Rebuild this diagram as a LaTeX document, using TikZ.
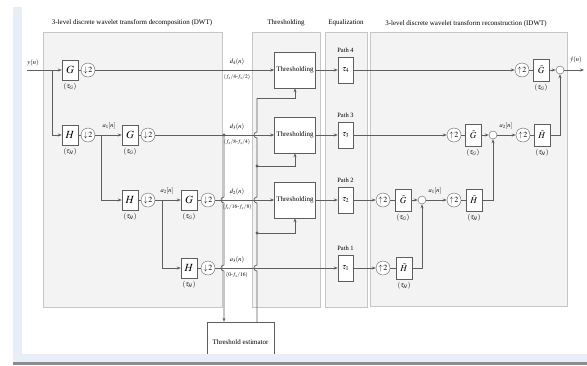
\documentclass[tikz,border=0pt]{standalone}
\usepackage{mathptmx}
\usepackage{fontspec}
\setmainfont{Liberation Serif}
\usetikzlibrary{arrows.meta,positioning}
\definecolor{panelfill}{HTML}{F3F3F3}
\definecolor{paneldraw}{HTML}{C6C6C6}
\definecolor{wire}{HTML}{5E5E5E}
\definecolor{winblue}{HTML}{E7EEF8}
\tikzset{
  panel/.style={draw=paneldraw,fill=panelfill,line width=0.7bp},
  title/.style={font=\fontsize{7}{7}\selectfont,inner sep=0pt},
  lbl/.style={font=\fontsize{6.5}{6.5}\selectfont,inner sep=0pt},
  blk/.style={draw=wire,fill=white,minimum width=16bp,minimum height=20bp,inner sep=0pt,
    font=\fontsize{11}{11}\selectfont},
  tblk/.style={blk,minimum height=22bp,font=\fontsize{9}{9}\selectfont},
  smp/.style={circle,draw=wire,fill=white,minimum size=14bp,inner sep=0pt,
    font=\fontsize{8}{8}\selectfont},
  sumnode/.style={circle,draw=wire,fill=white,minimum size=8bp,inner sep=0pt},
  thrbox/.style={draw=wire,fill=white,minimum width=41bp,minimum height=36bp,inner sep=0pt,
    font=\fontsize{7}{7}\selectfont},
  eqbox/.style={draw=wire,fill=white,minimum width=15bp,minimum height=26bp,inner sep=0pt,
    font=\fontsize{8}{8}\selectfont},
  tau/.style={label={[lbl,font=\fontsize{7}{7}\selectfont,label distance=3bp]below:$(\tau_{#1})$}},
  pathlbl/.style={label={[lbl,label distance=4bp]above:Path #1}},
  wireline/.style={draw=wire,line width=0.7bp},
  sig/.style={wireline,-{Stealth[length=4bp,width=3bp]}}
}
\begin{document}
\begin{tikzpicture}[x=1bp,y=-1bp]
  \useasboundingbox (0,0) rectangle (587,365);
  \fill[winblue] (13,7) rectangle (22,356);

  % panels and titles
  \draw[panel] (43,32) rectangle (222,307);
  \draw[panel] (252,32) rectangle (320,307);
  \draw[panel] (325,32) rectangle (367,307);
  \draw[panel] (370,32) rectangle (567,306);
  \node[title] (tdwt) at (132,23) {3-level discrete wavelet transform decomposition (DWT)};
  \node[title] (tthr) at (286,23) {Thresholding};
  \node[title] (teq) at (346,23) {Equalization};
  \node[title] (tidwt) at (466,24) {3-level discrete wavelet transform reconstruction (IDWT)};

  % decomposition
  \coordinate (yin) at (27,70);
  \coordinate (s0) at (52,70);
  \coordinate (s1) at (101,135);
  \coordinate (s2) at (162,200);
  \node[blk,tau=G] (G1) at (70,70) {$G$};
  \node[smp] (D1) at (88,70) {$\downarrow\!2$};
  \node[blk,tau=H] (H1) at (70,135) {$H$};
  \node[smp] (D2) at (88,135) {$\downarrow\!2$};
  \node[blk,tau=G] (G2) at (130,135) {$G$};
  \node[smp] (D3) at (148,135) {$\downarrow\!2$};
  \node[blk,tau=H] (H2) at (130,200) {$H$};
  \node[smp] (D4) at (148,200) {$\downarrow\!2$};
  \node[blk,tau=G] (G3) at (189,200) {$G$};
  \node[smp] (D5) at (208,200) {$\downarrow\!2$};
  \node[blk,tau=H] (H3) at (189,268) {$H$};
  \node[smp] (D6) at (208,268) {$\downarrow\!2$};
  \node[lbl] (lyin) at (33,63) {$y(n)$};
  \node[lbl] (la1) at (109,126) {$a_1[n]$};
  \node[lbl] (la2) at (167,191) {$a_2[n]$};

  % band labels
  \node[lbl] (ld4) at (237,62) {$d_4(n)$};
  \node[lbl,font=\fontsize{5.5}{5.5}\selectfont] (fd4) at (237,77) {$(f_s/4$-$f_s/2)$};
  \node[lbl] (ld3) at (237,127) {$d_3(n)$};
  \node[lbl,font=\fontsize{5.5}{5.5}\selectfont] (fd3) at (237,142) {$(f_s/8$-$f_s/4)$};
  \node[lbl] (ld2) at (237,192) {$d_2(n)$};
  \node[lbl,font=\fontsize{5.5}{5.5}\selectfont] (fd2) at (237,207) {$(f_s/16$-$f_s/8)$};
  \node[lbl] (la3) at (237,260) {$a_3(n)$};
  \node[lbl,font=\fontsize{5.5}{5.5}\selectfont] (fa3) at (237,275) {$(0$-$f_s/16)$};

  % thresholding and equalization
  \node[thrbox] (T4) at (295,70) {Thresholding};
  \node[thrbox] (T3) at (295,135) {Thresholding};
  \node[thrbox] (T2) at (295,200) {Thresholding};
  \node[thrbox,minimum width=67bp,minimum height=40bp] (est) at (240.5,342) {Threshold estimator};
  \node[eqbox,pathlbl=4] (E4) at (345.5,70) {$\tau_4$};
  \node[eqbox,pathlbl=3] (E3) at (345.5,135) {$\tau_3$};
  \node[eqbox,pathlbl=2] (E2) at (345.5,200) {$\tau_2$};
  \node[eqbox,pathlbl=1] (E1) at (345.5,268) {$\tau_1$};

  % reconstruction
  \node[smp] (U1) at (522,70) {$\uparrow\!2$};
  \node[tblk,tau=G] (GT1) at (541,70) {$\tilde{G}$};
  \node[sumnode] (S1) at (560,70) {};
  \coordinate (yout) at (584,70);
  \node[lbl] (lyout) at (576,60) {$\hat{y}(n)$};
  \node[smp] (U2) at (454,135) {$\uparrow\!2$};
  \node[tblk,tau=G] (GT2) at (473,135) {$\tilde{G}$};
  \node[sumnode] (S2) at (493,135) {};
  \node[smp] (U3) at (523,135) {$\uparrow\!2$};
  \node[tblk,tau=H] (HT1) at (542,135) {$\tilde{H}$};
  \node[lbl] (ra2) at (506,126) {$a_2[n]$};
  \node[smp] (U4) at (383,200) {$\uparrow\!2$};
  \node[tblk,tau=G] (GT3) at (403,200) {$\tilde{G}$};
  \node[sumnode] (S3) at (422,200) {};
  \node[smp] (U5) at (454,200) {$\uparrow\!2$};
  \node[tblk,tau=H] (HT2) at (474,200) {$\tilde{H}$};
  \node[lbl] (ra1) at (435,191) {$a_1[n]$};
  \node[smp] (U6) at (383,268) {$\uparrow\!2$};
  \node[tblk,tau=H] (HT3) at (404,268) {$\tilde{H}$};

  % decomposition wires
  \draw[sig] (yin) -- (G1);
  \draw[sig] (s0) |- (H1);
  \draw[wireline] (G1) -- (D1) (H1) -- (D2) (G2) -- (D3) (H2) -- (D4) (G3) -- (D5) (H3) -- (D6);
  \draw[sig] (D1) -- (T4);
  \draw[sig] (D2) -- (G2);
  \draw[sig] (s1) |- (H2);
  \draw[sig] (D3) -- (T3);
  \draw[sig] (D4) -- (G3);
  \draw[sig] (s2) |- (H3);
  \draw[sig] (D5) -- (T2);
  \draw[sig] (D6) -- (E1);

  % threshold estimator wires
  \coordinate (c3) at (224,135);
  \coordinate (j4) at (257,98);
  \coordinate (j3) at (257,166);
  \coordinate (j2) at (257,233);
  \draw[sig] (c3) -- (224,197) .. controls (220,197) and (220,203) .. (224,203)
    -- (224,265) .. controls (220,265) and (220,271) .. (224,271) -- (c3 |- est.north);
  \draw[wireline] (j4 |- est.north) -- (257,271) .. controls (253,271) and (253,265) .. (257,265)
    -- (257,203) .. controls (253,203) and (253,197) .. (257,197)
    -- (257,138) .. controls (253,138) and (253,132) .. (257,132) -- (j4);
  \draw[sig] (j4) -| (T4.south);
  \draw[sig] (j3) -| (T3.south);
  \draw[sig] (j2) -| (T2.south);
  \fill[wire] (c3) circle (1.6bp) (j3) circle (1.6bp) (j2) circle (1.6bp);

  % paths
  \draw[sig] (T4) -- (E4);
  \draw[sig] (T3) -- (E3);
  \draw[sig] (T2) -- (E2);
  \draw[sig] (E4) -- (U1);
  \draw[sig] (E3) -- (U2);
  \draw[sig] (E2) -- (U4);
  \draw[sig] (E1) -- (U6);

  % reconstruction wires
  \draw[wireline] (U1) -- (GT1) (U2) -- (GT2) (U3) -- (HT1) (U4) -- (GT3) (U5) -- (HT2) (U6) -- (HT3);
  \draw[sig] (GT1) -- (S1);
  \draw[sig] (S1) -- (yout);
  \draw[sig] (GT2) -- (S2);
  \draw[sig] (S2) -- (U3);
  \draw[sig] (HT1) -| (S1);
  \draw[sig] (GT3) -- (S3);
  \draw[sig] (S3) -- (U5);
  \draw[sig] (HT2) -| (S2);
  \draw[sig] (HT3) -| (S3);

  % bottom edge of the window
  \fill[winblue] (13,354) rectangle (587,362);
  \fill[black!45] (13,362) rectangle (587,365);
\end{tikzpicture}
\end{document}
